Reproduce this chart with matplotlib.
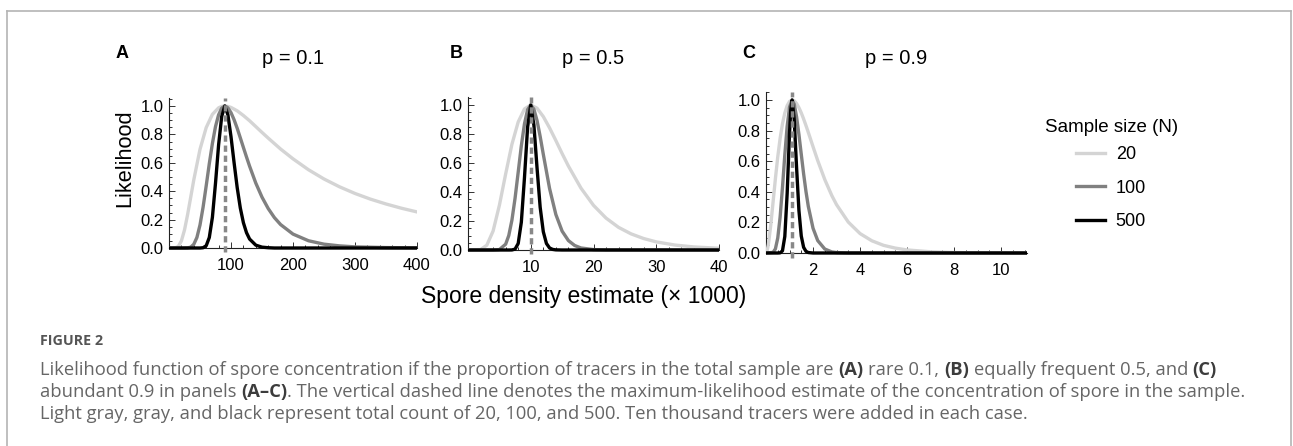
import numpy as np
import matplotlib
matplotlib.use("Agg")
import matplotlib.pyplot as plt
from matplotlib.lines import Line2D
from matplotlib.ticker import MultipleLocator, FormatStrFormatter

plt.rcParams['font.family'] = 'Liberation Sans'

W, H = 1293, 446

# ---- values ----
titles = ["p = 0.1", "p = 0.5", "p = 0.9"]
letters = ["A", "B", "C"]
sizes = ["20", "100", "500"]
colors = ["#d4d4d4", "#808080", "#000000"]
mle = [90, 10, 1.11]
xmax = [400, 40, 11.1]
xticks = [[100, 200, 300, 400], [10, 20, 30, 40], [2, 4, 6, 8, 10]]
xminor = [20, 2, 0.5]

# panel A (p = 0.1)
A_x20 = [0, 10, 15, 20, 25, 30, 35, 40, 50, 60, 70, 80, 85, 90, 95, 100, 110, 120, 130, 140,
         150, 160, 180, 200, 225, 250, 275, 300, 325, 350, 375, 400]
A_y20 = [0, 0.001, 0.011, 0.050, 0.127, 0.235, 0.357, 0.480, 0.695, 0.848, 0.941, 0.987, 0.997, 1.0,
         0.997, 0.990, 0.966, 0.933, 0.896, 0.855, 0.814, 0.774, 0.697, 0.628, 0.551, 0.486, 0.431,
         0.384, 0.344, 0.310, 0.280, 0.254]
A_x100 = [0, 25, 30, 35, 40, 45, 50, 55, 60, 65, 70, 75, 80, 85, 90, 95, 100, 105, 110, 115, 120,
          125, 130, 140, 150, 160, 170, 180, 200, 225, 250, 275, 300, 350, 400]
A_y100 = [0, 0, 0.001, 0.006, 0.026, 0.074, 0.162, 0.288, 0.438, 0.594, 0.736, 0.855, 0.938, 0.985,
          1.0, 0.987, 0.953, 0.903, 0.843, 0.776, 0.708, 0.641, 0.576, 0.457, 0.358, 0.278, 0.214,
          0.165, 0.098, 0.051, 0.027, 0.015, 0.008, 0.003, 0.001]
A_x500 = [0, 50, 55, 60, 65, 70, 75, 80, 85, 90, 95, 100, 105, 110, 115, 120, 125, 130, 140, 150,
          160, 170, 400]
A_y500 = [0, 0, 0.002, 0.016, 0.074, 0.216, 0.456, 0.726, 0.926, 1.0, 0.938, 0.784, 0.600, 0.425,
          0.282, 0.178, 0.108, 0.063, 0.020, 0.006, 0.002, 0, 0]

# panel B (p = 0.5)
B_x20 = [0, 2, 3, 4, 5, 6, 7, 8, 9, 10, 11, 12, 13, 14, 15, 16, 18, 20, 22, 24, 26, 28, 30, 33, 36, 40]
B_y20 = [0, 0.003, 0.033, 0.131, 0.308, 0.524, 0.729, 0.883, 0.973, 1.0, 0.978, 0.920, 0.842, 0.755,
         0.665, 0.579, 0.427, 0.308, 0.220, 0.156, 0.111, 0.079, 0.056, 0.034, 0.021, 0.012]
B_x100 = [0, 4, 5, 6, 6.5, 7, 7.5, 8, 8.5, 9, 9.5, 10, 10.5, 11, 11.5, 12, 13, 14, 15, 16, 17, 18,
          20, 22, 40]
B_y100 = [0, 0, 0.003, 0.040, 0.100, 0.206, 0.357, 0.537, 0.719, 0.870, 0.968, 1.0, 0.971, 0.893,
          0.783, 0.660, 0.424, 0.245, 0.130, 0.065, 0.031, 0.014, 0.003, 0.0005, 0]
B_x500 = [0, 6.5, 7, 7.5, 8, 8.5, 9, 9.5, 10, 10.5, 11, 11.5, 12, 12.5, 13, 13.5, 14, 15, 40]
B_y500 = [0, 0, 0.0004, 0.006, 0.045, 0.192, 0.499, 0.848, 1.0, 0.862, 0.567, 0.295, 0.126, 0.045,
          0.014, 0.004, 0.001, 0, 0]

# panel C (p = 0.9)
C_x20 = [0, 0.05, 0.1, 0.2, 0.3, 0.4, 0.5, 0.6, 0.7, 0.8, 0.9, 1.0, 1.11, 1.2, 1.3, 1.4, 1.5, 1.6,
         1.7, 1.8, 2.0, 2.2, 2.5, 2.8, 3.0, 3.5, 4.0, 4.5, 5.0, 5.5, 6.0, 7, 8, 9, 10, 11.1]
C_y20 = [0, 0.015, 0.055, 0.179, 0.332, 0.486, 0.628, 0.748, 0.844, 0.915, 0.963, 0.990, 1.0, 0.995,
         0.977, 0.950, 0.916, 0.876, 0.833, 0.788, 0.695, 0.604, 0.480, 0.375, 0.316, 0.202, 0.127,
         0.080, 0.050, 0.032, 0.020, 0.008, 0.003, 0.001, 0.001, 0]
C_x100 = [0, 0.3, 0.4, 0.5, 0.6, 0.7, 0.8, 0.9, 1.0, 1.11, 1.2, 1.3, 1.4, 1.5, 1.6, 1.7, 1.8, 2.0,
          2.2, 2.5, 2.8, 3.0, 3.5, 11.1]
C_y100 = [0, 0.004, 0.027, 0.098, 0.234, 0.427, 0.641, 0.828, 0.953, 1.0, 0.973, 0.890, 0.774, 0.645,
          0.517, 0.402, 0.304, 0.162, 0.081, 0.026, 0.007, 0.003, 0.0003, 0]
C_x500 = [0, 0.5, 0.6, 0.7, 0.8, 0.9, 1.0, 1.05, 1.11, 1.2, 1.3, 1.4, 1.5, 1.6, 1.7, 1.8, 2.0, 11.1]
C_y500 = [0, 0, 0.001, 0.014, 0.108, 0.389, 0.784, 0.931, 1.0, 0.873, 0.560, 0.278, 0.111, 0.037,
          0.011, 0.003, 0, 0]

curves = [
    [(A_x20, A_y20), (A_x100, A_y100), (A_x500, A_y500)],
    [(B_x20, B_y20), (B_x100, B_y100), (B_x500, B_y500)],
    [(C_x20, C_y20), (C_x100, C_y100), (C_x500, C_y500)],
]

# axes boxes in pixels: left, right, y of 0, y of 1
boxes = [(169, 417, 248, 106), (468, 719, 250, 105), (766, 1027, 253, 100)]
YTOP = 1.055
YBOT = -0.012

fig = plt.figure(figsize=(W / 100, H / 100), dpi=100)

for i, (l, r, y0, y1) in enumerate(boxes):
    unit = y0 - y1
    top = y0 - YTOP * unit
    bot = y0 - YBOT * unit
    ax = fig.add_axes([l / W, 1 - bot / H, (r - l) / W, (bot - top) / H])
    for (x, y), c in zip(curves[i], colors):
        ax.plot(x, y, color=c, lw=2.4, solid_joinstyle='round', zorder=3)
    ax.plot([mle[i], mle[i]], [-0.03, YTOP], color='#888888', lw=2.5,
            dashes=(1.8, 1.1), clip_on=False, zorder=4)
    ax.set_xlim(0, xmax[i])
    ax.set_ylim(YBOT, YTOP)
    for s in ['top', 'right']:
        ax.spines[s].set_visible(False)
    ax.spines['bottom'].set_position(('data', 0))
    ax.spines['left'].set_bounds(0, YTOP)
    for s in ['left', 'bottom']:
        ax.spines[s].set_linewidth(0.8)
        ax.spines[s].set_color('#222222')
    ax.set_xticks(xticks[i])
    ax.xaxis.set_minor_locator(MultipleLocator(xminor[i]))
    ax.set_yticks([0, 0.2, 0.4, 0.6, 0.8, 1.0])
    ax.yaxis.set_minor_locator(MultipleLocator(0.05))
    ax.yaxis.set_major_formatter(FormatStrFormatter('%.1f'))
    ax.tick_params(which='both', direction='in', color='#333333', width=0.7, labelsize=12)
    ax.tick_params(which='major', length=4)
    ax.tick_params(which='minor', length=2)
    ax.tick_params(axis='x', pad=7)
    ax.tick_params(axis='y', pad=4)
    fig.text((l + r) / 2 / W, 1 - 59 / H, titles[i], fontsize=14.5, ha='center', va='center')

fig.text(122 / W, 1 - 53 / H, 'A', fontsize=13, fontweight='bold', ha='center', va='center')
fig.text(456 / W, 1 - 53 / H, 'B', fontsize=13, fontweight='bold', ha='center', va='center')
fig.text(749 / W, 1 - 53 / H, 'C', fontsize=13, fontweight='bold', ha='center', va='center')

fig.text(125 / W, 1 - 158 / H, 'Likelihood', fontsize=15.7, rotation=90, ha='center', va='center')
fig.text(584 / W, 1 - 296 / H, 'Spore density estimate (\u00d7 1000)', fontsize=16.5,
         ha='center', va='center')

# legend: title as text, entries below it
fig.text(1045 / W, 1 - 127 / H, 'Sample size (N)', fontsize=13.5, ha='left', va='center')
handles = [Line2D([], [], color=c, lw=2.4) for c in colors]
fig.legend(handles, sizes, loc='upper left',
           bbox_to_anchor=(1076 / W, 1 - 146 / H), frameon=False, fontsize=13,
           handlelength=1.6, handletextpad=0.6, labelspacing=0.92,
           borderpad=0, borderaxespad=0)

# frame around the figure panel
bc = '#b4b4b4'
fig.add_artist(Line2D([7 / W, 7 / W], [1 - 11 / H, 0], transform=fig.transFigure, color=bc, lw=1.2))
fig.add_artist(Line2D([7 / W, 1291 / W], [1 - 11 / H, 1 - 11 / H], transform=fig.transFigure, color=bc, lw=1.2))
fig.add_artist(Line2D([1291 / W, 1291 / W], [1 - 11 / H, 0], transform=fig.transFigure, color=bc, lw=1.2))

# caption
cap_font = 'Open Sans'
fig.text(40 / W, 1 - 341 / H, 'FIGURE 2', fontsize=10.3, fontweight='bold', family=cap_font,
         color='#555555', va='center')

cap_lines = [
    [("Likelihood function of spore concentration if the proportion of tracers in the total sample are", False),
     ("(A)", True), ("rare 0.1,", False), ("(B)", True), ("equally frequent 0.5, and", False), ("(C)", True)],
    [("abundant 0.9 in panels", False), ("(A\u2013C)", True, False),
     (". The vertical dashed line denotes the maximum-likelihood estimate of the concentration of spore in the sample.", False)],
    [("Light gray, gray, and black represent total count of 20, 100, and 500. Ten thousand tracers were added in each case.", False)],
]
cap_y = [370, 392, 414]

renderer = fig.canvas.get_renderer()


def layout_line(segs, size, yy=None):
    # place the pieces one after another; returns the total width in pixels
    tmp = fig.text(0, 0, 'x x', fontsize=size, family=cap_font)
    sw = tmp.get_window_extent(renderer=renderer).width
    tmp.set_text('xx')
    sw -= tmp.get_window_extent(renderer=renderer).width
    tmp.remove()
    x = 40
    for seg in segs:
        s, bold = seg[0], seg[1]
        space = seg[2] if len(seg) > 2 else True
        t = fig.text(x / W, 1 - (yy or 0) / H, s, fontsize=size, family=cap_font,
                     fontweight='bold' if bold else 'normal',
                     color='#3c3c3c' if bold else '#666666', va='center')
        x += t.get_window_extent(renderer=renderer).width
        if space:
            x += sw
        if yy is None:
            t.remove()
    return x - 40


# caption line 2 runs to about x = 1243 in the source
cap_size = 12 * (1243 - 40) / layout_line(cap_lines[1], 12)
for segs, yy in zip(cap_lines, cap_y):
    layout_line(segs, cap_size, yy)

fig.savefig('out.png', dpi=100)
